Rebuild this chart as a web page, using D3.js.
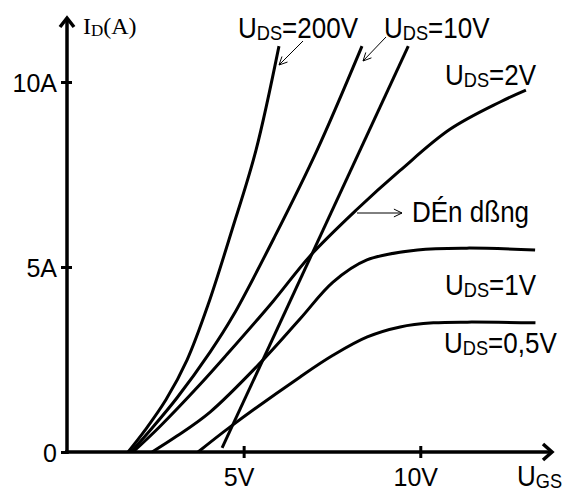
<!DOCTYPE html>
<html>
<head>
<meta charset="utf-8">
<script src="https://cdn.jsdelivr.net/npm/d3@7"></script>
<style>
  body { margin: 0; background: #fff; }
  text { font-family: "Liberation Sans", Arial, sans-serif; fill: #000; }
</style>
</head>
<body>
<div id="chart"></div>
<script>
// curve readings (U_GS in V, I_D in A)
const ugs200 = [1.73, 2.21, 2.80, 3.40, 3.99, 4.67, 5.35, 6.0];
const id200  = [0, 0.59, 1.41, 2.49, 3.97, 6.0, 8.16, 10.97];
const ugs10  = [1.81, 2.41, 3.11, 4.05, 4.70, 5.89, 7.08, 8.35];
const id10   = [0, 0.65, 1.46, 2.70, 3.68, 5.84, 8.16, 10.97];
const ugs2   = [1.87, 2.63, 3.77, 4.53, 5.83, 6.88, 8.21, 9.43, 10.84, 12.26, 12.99];
const id2    = [0, 0.69, 1.83, 2.64, 4.07, 5.30, 6.56, 7.61, 8.72, 9.46, 9.78];
const ugs1   = [2.41, 3.11, 4.05, 5.55, 6.6, 7.53, 8.49, 9.92, 11.32, 13.25];
const id1    = [0, 0.43, 1.08, 2.49, 3.60, 4.59, 5.19, 5.46, 5.51, 5.46];
const ugs05  = [3.71, 4.62, 6.60, 7.54, 8.5, 9.43, 10.37, 11.33, 13.26];
const id05   = [0, 0.68, 2.03, 2.62, 3.11, 3.38, 3.49, 3.51, 3.49];
const ugsLine = [4.39, 9.66];
const idLine  = [0.11, 10.97];

const xTicks = [5, 10];
const xTickLabels = ["5V", "10V"];
const yTicks = [0, 5, 10];
const yTickLabels = ["0", "5A", "10A"];

const width = 562, height = 491;

const svg = d3.select("#chart")
  .append("svg")
  .attr("width", width)
  .attr("height", height);

const x = d3.scaleLinear().domain([0, 13.7]).range([67, 551]);
const y = d3.scaleLinear().domain([0, 10]).range([452, 82]);

// axes
const xAxis = svg.append("g")
  .attr("transform", `translate(0,${y(0)})`)
  .call(d3.axisBottom(x).tickValues(xTicks).tickFormat((d, i) => xTickLabels[i]).tickSizeOuter(0));
xAxis.select(".domain").remove();
xAxis.selectAll(".tick line").attr("y1", -6).attr("y2", 6).attr("stroke-width", 3);
xAxis.selectAll(".tick text").attr("x", -5).attr("y", 34).attr("dy", 0)
  .style("font-size", "25px").style("font-family", '"Liberation Sans", Arial, sans-serif');

const yAxis = svg.append("g")
  .attr("transform", `translate(${x(0)},0)`)
  .call(d3.axisLeft(y).tickValues(yTicks).tickFormat((d, i) => yTickLabels[i]).tickSizeOuter(0));
yAxis.select(".domain").remove();
yAxis.selectAll(".tick line").attr("x1", -6).attr("x2", d => d === 0 ? 0 : 5).attr("stroke-width", 3);
yAxis.selectAll(".tick text").attr("x", -10).attr("dy", "0.38em")
  .style("font-size", "25px").style("font-family", '"Liberation Sans", Arial, sans-serif');

// axis lines with open arrow heads
const axisG = svg.append("g").attr("fill", "none").attr("stroke", "#000").attr("stroke-width", 3.5);
axisG.append("line").attr("x1", x(0)).attr("y1", y(0) + 2).attr("x2", x(0)).attr("y2", 18);
axisG.append("path").attr("d", `M${x(0) - 7},${27} L${x(0)},${18} L${x(0) + 7},${27}`);
axisG.append("line").attr("x1", x(0) - 2).attr("y1", y(0)).attr("x2", 552).attr("y2", y(0));
axisG.append("path").attr("d", `M${543},${y(0) - 8} L${552},${y(0)} L${543},${y(0) + 8}`);

// curves
const series = [
  [ugs200, id200], [ugs10, id10], [ugs2, id2],
  [ugs1, id1], [ugs05, id05], [ugsLine, idLine]
];
const line = d3.line()
  .x(d => x(d[0]))
  .y(d => y(d[1]))
  .curve(d3.curveCatmullRom.alpha(0.5));

svg.append("g")
  .selectAll("path")
  .data(series)
  .join("path")
  .attr("d", s => line(s[0].map((u, i) => [u, s[1][i]])))
  .attr("fill", "none")
  .attr("stroke", "#000")
  .attr("stroke-width", 3);

// labels like U_DS=200V
function subLabel(px, py, main, sub, rest, size) {
  const t = svg.append("text")
    .attr("transform", `translate(${px},${py}) scale(1,1.1)`)
    .style("font-size", size + "px");
  t.append("tspan").text(main);
  t.append("tspan").style("font-size", (size * 0.7) + "px").attr("dy", 2).text(sub);
  if (rest) t.append("tspan").attr("dy", -2).text(rest);
  return t;
}

subLabel(238, 38, "U", "DS", "=200V", 26);
subLabel(384, 38, "U", "DS", "=10V", 26);
subLabel(445, 85, "U", "DS", "=2V", 26);
subLabel(445, 295, "U", "DS", "=1V", 26);
subLabel(444, 353, "U", "DS", "=0,5V", 26);
subLabel(517, 486, "U", "GS", null, 26);

svg.append("text")
  .attr("transform", "translate(412,222) scale(1,1.1)")
  .style("font-size", "26px")
  .text("DÉn dßng");

// I_D(A) in serif
const idText = svg.append("text")
  .attr("x", 83).attr("y", 34)
  .style("font-family", '"Liberation Serif", "Times New Roman", serif')
  .style("font-size", "24px");
idText.append("tspan").text("I");
idText.append("tspan").style("font-size", "17px").attr("dy", 2).text("D");
idText.append("tspan").attr("dy", -2).text("(A)");

// thin pointer arrows
const thin = svg.append("g").attr("fill", "none").attr("stroke", "#000").attr("stroke-width", 1);
function pointer(x1, y1, x2, y2) {
  thin.append("line").attr("x1", x1).attr("y1", y1).attr("x2", x2).attr("y2", y2);
  const a = Math.atan2(y2 - y1, x2 - x1), L = 9, w = 0.45;
  thin.append("path").attr("d",
    `M${x2 - L * Math.cos(a - w)},${y2 - L * Math.sin(a - w)} L${x2},${y2} L${x2 - L * Math.cos(a + w)},${y2 - L * Math.sin(a + w)}`);
}
pointer(303, 41, 279, 65);
pointer(386, 37, 363, 61);
pointer(357, 213, 402, 213);
</script>
</body>
</html>
